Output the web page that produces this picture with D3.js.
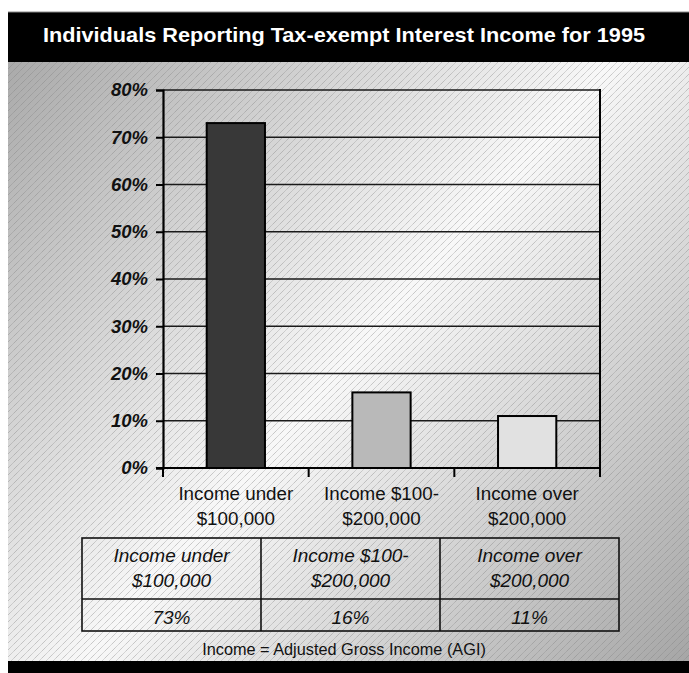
<!DOCTYPE html>
<html>
<head>
<meta charset="utf-8">
<script src="https://cdn.jsdelivr.net/npm/d3@7"></script>
<style>
  html, body { margin: 0; padding: 0; background: #ffffff; }
  svg { display: block; }
  text { font-family: "Liberation Sans", Arial, Helvetica, sans-serif; }
</style>
</head>
<body>
<svg id="chart" width="689" height="673"></svg>
<script>
// ---- data ----
const title = "Individuals Reporting Tax-exempt Interest Income for 1995";
const categories = ["Income under $100,000", "Income $100-$200,000", "Income over $200,000"];
const categoryLines = [["Income under", "$100,000"], ["Income $100-", "$200,000"], ["Income over", "$200,000"]];
const values = [73, 16, 11];
const valueLabels = ["73%", "16%", "11%"];
const yTicks = [0, 10, 20, 30, 40, 50, 60, 70, 80];
const footnote = "Income = Adjusted Gross Income (AGI)";

// ---- styles ----
const barColors = ["#383838", "#b9b9b9", "#e1e1e1"];

const svg = d3.select("#chart");
const defs = svg.append("defs");

// background gradient (dark TL, light middle, dark BR)
const grad = defs.append("linearGradient")
  .attr("id", "bg").attr("gradientUnits", "userSpaceOnUse")
  .attr("x1", 8).attr("y1", 62).attr("x2", 689).attr("y2", 661);
grad.append("stop").attr("offset", 0).attr("stop-color", "#aaaaaa");
grad.append("stop").attr("offset", 0.5).attr("stop-color", "#f8f8f8");
grad.append("stop").attr("offset", 1).attr("stop-color", "#a6a6a6");

// diagonal hatch
const pat = defs.append("pattern")
  .attr("id", "hatch").attr("patternUnits", "userSpaceOnUse")
  .attr("width", 7).attr("height", 7);
pat.append("path")
  .attr("d", "M0,7 L7,0 M-1,1 L1,-1 M6,8 L8,6")
  .attr("stroke", "#7a7a7a").attr("stroke-width", 0.9)
  .attr("stroke-dasharray", "1,0.6")
  .attr("opacity", 0.6);

// frame
svg.append("rect").attr("x", 8).attr("y", 62).attr("width", 681).attr("height", 599).attr("fill", "url(#bg)");
svg.append("rect").attr("x", 8).attr("y", 62).attr("width", 681).attr("height", 599).attr("fill", "url(#hatch)");
svg.append("rect").attr("x", 8).attr("y", 12).attr("width", 681).attr("height", 50).attr("fill", "#000");
svg.append("line").attr("x1", 8).attr("x2", 689).attr("y1", 12).attr("y2", 12).attr("stroke", "#888").attr("stroke-width", 1);
svg.append("rect").attr("x", 8).attr("y", 661).attr("width", 681).attr("height", 12).attr("fill", "#000");

svg.append("text")
  .attr("x", 344).attr("y", 42)
  .attr("text-anchor", "middle")
  .attr("fill", "#fff")
  .attr("font-size", 21).attr("font-weight", "bold")
  .attr("textLength", 602).attr("lengthAdjust", "spacingAndGlyphs")
  .text(title);

// ---- scales ----
const plotLeft = 163, plotRight = 600, plotTop = 90, plotBottom = 468;
const x = d3.scaleBand().domain(categories).range([plotLeft, plotRight]).paddingInner(0.6).paddingOuter(0.3);
const y = d3.scaleLinear().domain([0, 80]).range([plotBottom, plotTop]);

// gridlines
svg.append("g").selectAll("line").data(yTicks.filter(d => d > 0)).join("line")
  .attr("x1", plotLeft).attr("x2", plotRight)
  .attr("y1", d => y(d)).attr("y2", d => y(d))
  .attr("stroke", "#1a1a1a").attr("stroke-width", 1.6);

// right border
svg.append("line").attr("x1", plotRight).attr("x2", plotRight)
  .attr("y1", plotTop - 1).attr("y2", plotBottom)
  .attr("stroke", "#000").attr("stroke-width", 2);

// bars
svg.append("g").selectAll("rect").data(values).join("rect")
  .attr("x", (d, i) => x(categories[i]))
  .attr("width", x.bandwidth())
  .attr("y", d => y(d))
  .attr("height", d => y(0) - y(d))
  .attr("fill", (d, i) => barColors[i])
  .attr("stroke", "#000").attr("stroke-width", 2);

// y axis
const yAxis = svg.append("g").attr("transform", `translate(${plotLeft},0)`)
  .call(d3.axisLeft(y).tickValues(yTicks).tickSize(7).tickPadding(8).tickFormat(d => d + "%"));
yAxis.select(".domain").attr("stroke", "#000").attr("stroke-width", 2.2);
yAxis.selectAll(".tick line").attr("stroke", "#000").attr("stroke-width", 2);
yAxis.selectAll(".tick text")
  .attr("font-family", "'Liberation Sans', Arial, sans-serif")
  .attr("font-size", 18.5).attr("font-weight", "bold").attr("font-style", "italic")
  .attr("fill", "#111");

// x axis baseline and boundary ticks
const step = x.step();
const boundaries = d3.range(categories.length + 1).map(i => plotLeft + i * step);
svg.append("line").attr("x1", plotLeft - 7).attr("x2", plotRight)
  .attr("y1", y(0)).attr("y2", y(0))
  .attr("stroke", "#000").attr("stroke-width", 2.2);
svg.append("g").selectAll("line").data(boundaries).join("line")
  .attr("x1", d => d).attr("x2", d => d)
  .attr("y1", y(0)).attr("y2", y(0) + 9)
  .attr("stroke", "#000").attr("stroke-width", 2);

// x labels
const xl = svg.append("g").selectAll("text").data(categories).join("text")
  .attr("text-anchor", "middle")
  .attr("font-size", 18.8).attr("fill", "#111");
xl.each(function (d, i) {
  const t = d3.select(this);
  categoryLines[i].forEach((ln, j) => {
    t.append("tspan").attr("x", x(d) + x.bandwidth() / 2).attr("y", 500 + j * 25).text(ln);
  });
});

// ---- data table ----
const tLeft = 82, tRight = 619, tTop = 538, tMid = 599, tBottom = 631;
const cx = d3.scaleBand().domain(categories).range([tLeft, tRight]);
const tbl = svg.append("g");
tbl.append("rect").attr("x", tLeft).attr("y", tTop).attr("width", tRight - tLeft).attr("height", tBottom - tTop)
  .attr("fill", "none").attr("stroke", "#111").attr("stroke-width", 1.6);
tbl.append("line").attr("x1", tLeft).attr("x2", tRight).attr("y1", tMid).attr("y2", tMid)
  .attr("stroke", "#111").attr("stroke-width", 1.6);
tbl.selectAll("line.col").data(categories.slice(1)).join("line").attr("class", "col")
  .attr("x1", d => cx(d)).attr("x2", d => cx(d)).attr("y1", tTop).attr("y2", tBottom)
  .attr("stroke", "#111").attr("stroke-width", 1.6);
tbl.selectAll("text.hd").data(categories).join("text").attr("class", "hd")
  .attr("text-anchor", "middle").attr("font-size", 19).attr("font-style", "italic").attr("fill", "#111")
  .each(function (d, i) {
    const t = d3.select(this);
    categoryLines[i].forEach((ln, j) => {
      t.append("tspan").attr("x", cx(d) + cx.bandwidth() / 2).attr("y", 562 + j * 25).text(ln);
    });
  });
tbl.selectAll("text.val").data(valueLabels).join("text").attr("class", "val")
  .attr("x", (d, i) => cx(categories[i]) + cx.bandwidth() / 2).attr("y", 624)
  .attr("text-anchor", "middle").attr("font-size", 19).attr("font-style", "italic").attr("fill", "#111")
  .text(d => d);

svg.append("text").attr("x", 344).attr("y", 655)
  .attr("text-anchor", "middle").attr("font-size", 16.3).attr("fill", "#111")
  .text(footnote);
</script>
</body>
</html>
